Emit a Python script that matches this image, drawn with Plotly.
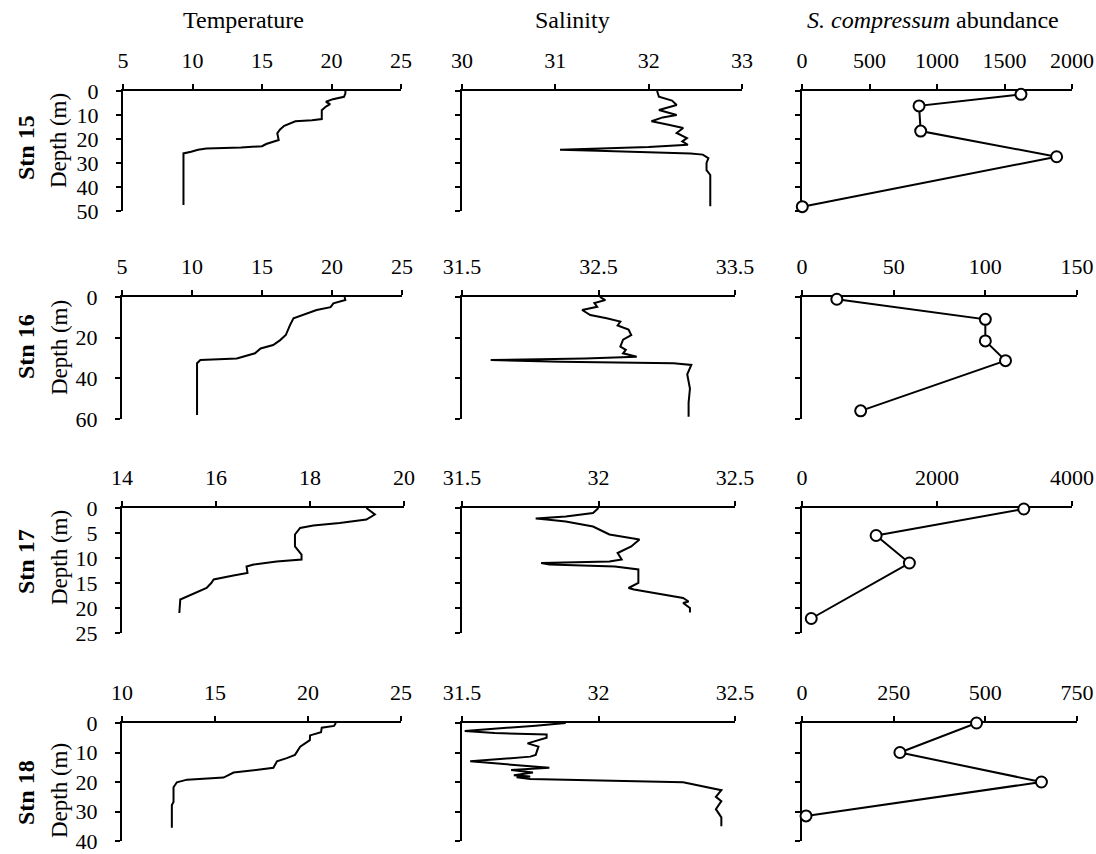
import plotly.graph_objects as go

W, H = 1096, 854

# ---------------- data ----------------
# Station 15
t15_depth = [0, 1, 2.4, 3.4, 4.5, 5.5, 6.5, 8, 11.7, 12.2, 12.6, 13.5, 14.5, 16, 17.6, 20.4, 21.2, 22.1, 23.0, 23.5, 24.0, 24.5, 25.3, 26, 35, 47.5]
t15_temp = [21.0, 21.0, 20.9, 20.1, 19.6, 19.9, 19.6, 19.3, 19.3, 18.6, 17.4, 17.0, 16.6, 16.3, 16.1, 16.2, 15.7, 15.3, 15.0, 13.5, 11.0, 10.4, 9.9, 9.35, 9.35, 9.35]
s15_depth = [0, 2.4, 4, 5.8, 7.9, 10, 11, 12.6, 14, 15.4, 17.5, 19.6, 21, 22.4, 23.3, 24.5, 24.9, 25.3, 26.0, 26.5, 28, 30, 33, 35, 48]
s15_sal = [32.09, 32.11, 32.25, 32.30, 32.11, 32.30, 32.15, 32.03, 32.2, 32.37, 32.30, 32.41, 32.36, 32.42, 32.0, 31.05, 31.45, 31.95, 32.45, 32.58, 32.64, 32.62, 32.62, 32.66, 32.66]
a15_depth = [1.4, 6.2, 16.7, 27.4, 48.2]
a15_abund = [1622, 867, 879, 1886, 2]

# Station 16
t16_depth = [0, 1.5, 3.1, 5, 6.4, 8, 10.5, 13.8, 18.7, 21.2, 23.6, 25.3, 27.7, 30.2, 31, 32.6, 45, 58]
t16_temp = [20.9, 20.95, 20.1, 19.9, 18.9, 18.3, 17.25, 17.0, 16.7, 16.3, 15.8, 14.9, 14.5, 13.2, 10.6, 10.36, 10.36, 10.36]
s16_depth = [0, 1.5, 3, 4.8, 6.4, 8.9, 10.5, 12.1, 14, 16, 18.7, 21, 24.4, 26, 27.7, 29.4, 30.3, 31.0, 31.8, 32.6, 33.4, 38, 45, 52, 58.9]
s16_sal = [32.51, 32.55, 32.47, 32.49, 32.38, 32.44, 32.56, 32.66, 32.64, 32.72, 32.74, 32.68, 32.66, 32.7, 32.68, 32.78, 32.4, 31.71, 32.22, 33.05, 33.18, 33.15, 33.17, 33.16, 33.16]
a16_depth = [1.1, 11, 21.6, 31.3, 56]
a16_abund = [19, 100, 100, 111, 32]

# Station 17
t17_depth = [0, 1.3, 2.3, 3, 3.5, 4, 5.3, 7.7, 9.3, 10.3, 10.7, 11.3, 11.7, 13, 13.5, 14.3, 15, 16, 18.3, 21]
t17_temp = [19.2, 19.38, 19.2, 18.63, 18.07, 17.79, 17.68, 17.68, 17.82, 17.82, 17.29, 16.8, 16.65, 16.67, 16.37, 15.95, 15.9, 15.8, 15.24, 15.22]
s17_depth = [0, 1, 1.7, 2.1, 2.3, 2.7, 3.7, 5.3, 6.3, 7.7, 9, 10.3, 10.7, 11, 11.3, 11.7, 12.3, 15, 16, 16.3, 18, 18.7, 19, 20, 20.9]
s17_sal = [32.0, 31.98, 31.88, 31.77, 31.81, 31.88, 31.98, 32.04, 32.15, 32.12, 32.07, 32.085, 32.04, 31.79, 31.82, 32.06, 32.146, 32.146, 32.11, 32.13, 32.31, 32.33, 32.31, 32.335, 32.335]
a17_depth = [0.2, 5.5, 11, 22.1]
a17_abund = [3286, 1098, 1591, 137]

# Station 18
t18_depth = [0, 1, 1.6, 3.1, 4.2, 5.8, 8, 10.8, 11.9, 13, 15.2, 16.8, 18.5, 19.2, 20.1, 21.8, 26.8, 27.8, 35.5]
t18_temp = [21.5, 21.4, 20.74, 20.7, 20.11, 20.1, 19.58, 19.3, 18.86, 18.33, 18.14, 16.0, 15.46, 13.5, 12.95, 12.77, 12.77, 12.68, 12.68]
s18_depth = [0, 0.9, 2.7, 3.4, 3.9, 5, 6.9, 8, 10.8, 11.4, 13, 15.2, 15.9, 16.8, 17.7, 18.1, 18.4, 19, 20.1, 21.8, 22.8, 25, 26.5, 29.2, 32, 35]
s18_sal = [31.88, 31.77, 31.51, 31.62, 31.81, 31.81, 31.74, 31.78, 31.77, 31.75, 31.53, 31.82, 31.68, 31.76, 31.69, 31.75, 31.7, 31.75, 32.31, 32.40, 32.45, 32.43, 32.45, 32.43, 32.45, 32.45]
a18_depth = [0, 10, 20, 31.5]
a18_abund = [476, 267, 653, 11]

stations = ["Stn 15", "Stn 16", "Stn 17", "Stn 18"]
column_titles = ["Temperature", "Salinity", "<i>S. compressum</i> abundance"]

temp_ticks = [[5, 10, 15, 20, 25], [5, 10, 15, 20, 25], [14, 16, 18, 20], [10, 15, 20, 25]]
sal_ticks = [[30, 31, 32, 33], [31.5, 32.5, 33.5], [31.5, 32, 32.5], [31.5, 32, 32.5]]
abund_ticks = [[0, 500, 1000, 1500, 2000], [0, 50, 100, 150], [0, 2000, 4000], [0, 250, 500, 750]]
depth_ticks = [[0, 10, 20, 30, 40, 50], [0, 20, 40, 60], [0, 5, 10, 15, 20, 25], [0, 10, 20, 30, 40]]

# ---------------- layout geometry (page pixels) ----------------
row_px = [(91, 211), (297, 419), (508, 633), (723, 841)]
col_px = [
    [(123, 401), (462, 742), (802, 1072)],
    [(122, 402), (462, 735), (802, 1077)],
    [(122, 404), (462, 735), (802, 1072)],
    [(122, 401), (462, 735), (802, 1077)],
]

def px(x):
    return x / W

def py(y):
    return 1 - y / H

series = [
    [(t15_temp, t15_depth), (s15_sal, s15_depth), (a15_abund, a15_depth)],
    [(t16_temp, t16_depth), (s16_sal, s16_depth), (a16_abund, a16_depth)],
    [(t17_temp, t17_depth), (s17_sal, s17_depth), (a17_abund, a17_depth)],
    [(t18_temp, t18_depth), (s18_sal, s18_depth), (a18_abund, a18_depth)],
]
xticks = [temp_ticks, sal_ticks, abund_ticks]

FONT = "Liberation Serif, Times New Roman, serif"

def fmt(v):
    return str(int(v)) if float(v).is_integer() else str(v)

fig = go.Figure()
layout = {}
k = 0
for r in range(4):
    ytop, ybot = row_px[r]
    for c in range(3):
        k += 1
        xa = "xaxis" if k == 1 else f"xaxis{k}"
        ya = "yaxis" if k == 1 else f"yaxis{k}"
        xr = "x" if k == 1 else f"x{k}"
        yr = "y" if k == 1 else f"y{k}"
        x0, x1 = col_px[r][c]
        tv = xticks[c][r]
        dv = depth_ticks[r]
        layout[xa] = dict(
            domain=[px(x0), px(x1)], anchor=yr, side="top",
            range=[tv[0], tv[-1]], tickvals=tv, ticktext=[fmt(v) for v in tv],
            showline=True, linecolor="black", linewidth=2, mirror=False,
            ticks="outside", ticklen=5, tickwidth=1.5, tickcolor="black",
            showgrid=False, zeroline=False, layer="below traces",
            tickfont=dict(family=FONT, size=22, color="black"),
            ticklabelstandoff=7, ticklabeloverflow="allow",
            fixedrange=True, automargin=False,
        )
        layout[ya] = dict(
            domain=[py(ybot), py(ytop)], anchor=xr,
            range=[dv[-1], 0], tickvals=dv, ticktext=[fmt(v) for v in dv],
            showticklabels=(c == 0),
            showline=True, linecolor="black", linewidth=2,
            ticks="outside", ticklen=5, tickwidth=1.5, tickcolor="black",
            showgrid=False, zeroline=False, layer="below traces",
            tickfont=dict(family=FONT, size=22, color="black"),
            ticklabelstandoff=13, ticklabeloverflow="allow",
            fixedrange=True, automargin=False,
        )
        xs, ds = series[r][c]
        if c < 2:
            fig.add_trace(go.Scatter(x=xs, y=ds, xaxis=xr, yaxis=yr, mode="lines",
                                     line=dict(color="black", width=2),
                                     showlegend=False, cliponaxis=False))
        else:
            fig.add_trace(go.Scatter(x=xs, y=ds, xaxis=xr, yaxis=yr, mode="lines+markers",
                                     line=dict(color="black", width=2),
                                     marker=dict(symbol="circle", size=11, color="white",
                                                 line=dict(color="black", width=2)),
                                     showlegend=False, cliponaxis=False))

annotations = []
title_px = [(243, 20), (572, 20), (933, 20)]
for (tx, ty), txt in zip(title_px, column_titles):
    annotations.append(dict(x=px(tx), y=py(ty), xref="paper", yref="paper",
                            text=txt, showarrow=False, xanchor="center", yanchor="middle",
                            font=dict(family=FONT, size=24, color="black")))

stn_px = [148, 347, 562, 793]
depth_px = [140, 347, 557, 790]
for r in range(4):
    annotations.append(dict(x=px(26), y=py(stn_px[r]), xref="paper", yref="paper",
                            text=f"<b>{stations[r]}</b>", showarrow=False, textangle=-90,
                            xanchor="center", yanchor="middle",
                            font=dict(family=FONT, size=24, color="black")))
    annotations.append(dict(x=px(59), y=py(depth_px[r]), xref="paper", yref="paper",
                            text="Depth (m)", showarrow=False, textangle=-90,
                            xanchor="center", yanchor="middle",
                            font=dict(family=FONT, size=23, color="black")))

fig.update_layout(
    width=W, height=H,
    margin=dict(l=0, r=0, t=0, b=0, autoexpand=False),
    paper_bgcolor="white", plot_bgcolor="white",
    showlegend=False,
    annotations=annotations,
    **layout,
)

fig.write_html(
    "out.html",
    config={"displayModeBar": False},
    post_script="document.body.style.margin='0px';document.body.style.overflow='hidden';",
)
